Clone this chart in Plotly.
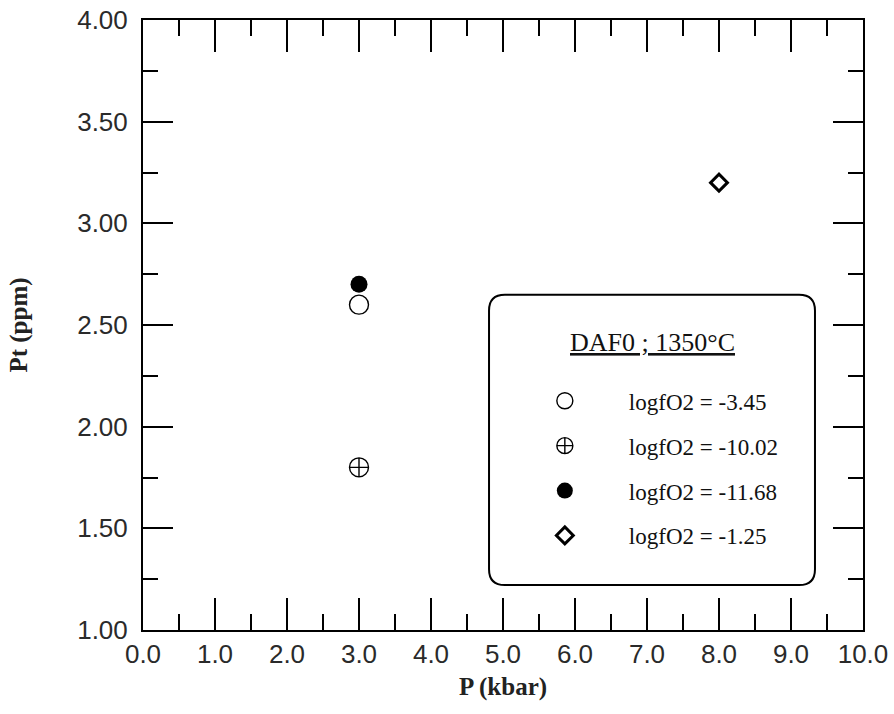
import plotly.graph_objects as go

# Data
series_names = ["logfO2 = -3.45", "logfO2 = -10.02", "logfO2 = -11.68", "logfO2 = -1.25"]
series_x = [[3.0], [3.0], [3.0], [8.0]]
series_y = [[2.60], [1.80], [2.70], [3.20]]
x_ticks = [0, 1, 2, 3, 4, 5, 6, 7, 8, 9, 10]
x_tick_labels = ["0.0", "1.0", "2.0", "3.0", "4.0", "5.0", "6.0", "7.0", "8.0", "9.0", "10.0"]
y_ticks = [1.0, 1.5, 2.0, 2.5, 3.0, 3.5, 4.0]
y_tick_labels = ["1.00", "1.50", "2.00", "2.50", "3.00", "3.50", "4.00"]
legend_title = "DAF0 ; 1350°C"
x_title = "P (kbar)"
y_title = "Pt (ppm)"

SERIF = "Liberation Serif, Times New Roman, serif"
SANS = "Liberation Sans, Arial, sans-serif"

styles = [
    dict(symbol="circle-open", size=19, color="black", line=dict(width=1.4, color="black")),
    dict(symbol="circle-cross-open", size=19, color="black", line=dict(width=1.4, color="black")),
    dict(symbol="circle", size=17, color="black", line=dict(width=0, color="black")),
    dict(symbol="diamond-open", size=13, color="black", line=dict(width=3, color="black")),
]

fig = go.Figure()
for i, (name, xs, ys) in enumerate(zip(series_names, series_x, series_y)):
    fig.add_trace(go.Scatter(x=xs, y=ys, mode="markers", name=name,
                             legendgroup=f"g{i}", marker=styles[i]))

# rounded legend box (data coords)
x0, x1, y0, y1 = 4.806, 9.333, 1.221, 2.649
rx, ry = 0.22, 0.078
path = (f"M {x0+rx},{y1} L {x1-rx},{y1} Q {x1},{y1} {x1},{y1-ry} "
        f"L {x1},{y0+ry} Q {x1},{y0} {x1-rx},{y0} L {x0+rx},{y0} "
        f"Q {x0},{y0} {x0},{y0+ry} L {x0},{y1-ry} Q {x0},{y1} {x0+rx},{y1} Z")
fig.add_shape(type="path", path=path, xref="x", yref="y",
              line=dict(color="black", width=2), fillcolor="rgba(0,0,0,0)", layer="above")

fig.add_annotation(x=7.07, y=2.412, xref="x", yref="y", text=f"<u>{legend_title}</u>",
                   showarrow=False, xanchor="center", yanchor="middle",
                   font=dict(family=SERIF, size=26, color="#111"))

axis_common = dict(
    showline=True, linecolor="black", linewidth=2, mirror="allticks", automargin=False,
    ticks="inside", tickcolor="black", tickwidth=2, showgrid=False, zeroline=False,
    tickfont=dict(family=SANS, size=26, color="#2a2a2a"),
)
fig.update_xaxes(range=[0, 10], tickvals=x_ticks, ticktext=x_tick_labels, ticklen=32,
                 minor=dict(ticks="inside", ticklen=16, tickwidth=2, tickcolor="black", dtick=0.5, showgrid=False),
                 title=dict(text=f"<b>{x_title}</b>", font=dict(family=SERIF, size=25, color="#222"), standoff=9),
                 **axis_common)
fig.update_yaxes(range=[1.0, 4.0], tickvals=y_ticks, ticktext=y_tick_labels, ticklen=30,
                 ticklabelstandoff=8,
                 minor=dict(ticks="inside", ticklen=15, tickwidth=2, tickcolor="black", dtick=0.25, showgrid=False),
                 title=dict(text=f"<b>{y_title}</b>", font=dict(family=SERIF, size=25, color="#222"), standoff=42),
                 **axis_common)

fig.update_layout(
    width=894, height=714,
    margin=dict(l=143, r=31, t=20, b=84),
    plot_bgcolor="white", paper_bgcolor="white",
    showlegend=True,
    legend=dict(x=0.497, y=0.411, xanchor="left", yanchor="top",
                bgcolor="rgba(0,0,0,0)", borderwidth=0,
                font=dict(family=SERIF, size=23, color="#111"),
                tracegroupgap=12, itemwidth=118),
)

fig.write_html("out.html", config={"displayModeBar": False},
               post_script="document.body.style.margin='0px';document.body.style.overflow='hidden';")
